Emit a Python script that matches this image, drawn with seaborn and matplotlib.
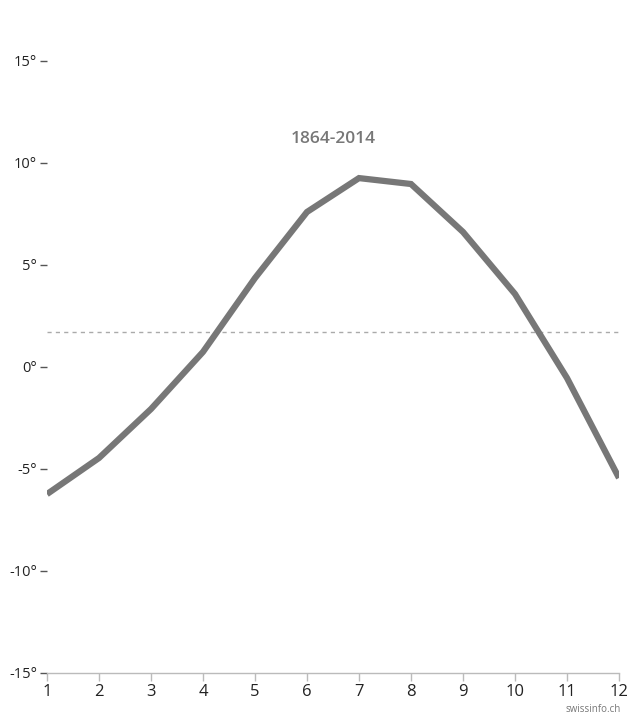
import matplotlib
matplotlib.use("Agg")
import matplotlib.pyplot as plt
import seaborn as sns
import pandas as pd

months = [1, 2, 3, 4, 5, 6, 7, 8, 9, 10, 11, 12]
temps = [-6.23, -4.46, -2.06, 0.74, 4.36, 7.6, 9.26, 8.97, 6.62, 3.58, -0.54, -5.44]
annual_mean = 1.72
series_label = "1864-2014"
yticks = [-15, -10, -5, 0, 5, 10, 15]
ytick_labels = ["-15°", "-10°", "-5°", "0°", "5°", "10°", "15°"]
credit = "swissinfo.ch"

df = pd.DataFrame({"month": months, "temp": temps})

sns.set_theme(style="white")
plt.rcParams["font.family"] = ["Open Sans", "DejaVu Sans"]

fig = plt.figure(figsize=(6.4, 7.2), dpi=100)
ax = fig.add_axes([47 / 640, 1 - 673 / 720, (619 - 47) / 640, (673 - 61) / 720])

ax.axhline(annual_mean, color="#aaaaaa", lw=1, ls=(0, (3, 3)), zorder=1)
sns.lineplot(data=df, x="month", y="temp", ax=ax, color="#777777", lw=4.5,
             solid_joinstyle="miter", solid_capstyle="butt", zorder=3)

ax.set_xlim(1, 12)
ax.set_ylim(-15, 15)
ax.set_xticks(months)
ax.set_xticklabels([str(m) for m in months], fontsize=12, color="#222222")
ax.set_yticks(yticks)
ax.set_yticklabels(ytick_labels, fontsize=10.5, color="#222222")
ax.set_xlabel("")
ax.set_ylabel("")

for s in ["top", "right", "left"]:
    ax.spines[s].set_visible(False)
ax.spines["bottom"].set_color("#bbbbbb")
ax.spines["bottom"].set_linewidth(1)
ax.tick_params(axis="x", direction="out", length=6, width=1, color="#bbbbbb", pad=2, bottom=True)
ax.tick_params(axis="y", direction="out", length=5, width=1, color="#555555", pad=2, left=True)
ax.grid(False)

ax.text(6.5, 11.2, series_label, ha="center", va="center", fontsize=12.5,
        fontweight="semibold", color="#777777")

fig.text(621 / 640, 1 - 709 / 720, credit, ha="right", va="center", fontsize=7, color="#777777")

fig.savefig("out.png", dpi=100, facecolor="white")
